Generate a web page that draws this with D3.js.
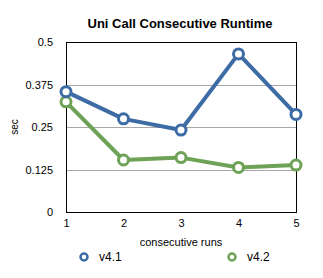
<!DOCTYPE html>
<html>
<head>
<meta charset="utf-8">
<script src="https://cdn.jsdelivr.net/npm/d3@7"></script>
<style>
  body { margin: 0; background: #fff; }
  text { font-family: "Liberation Sans", Arial, sans-serif; fill: #000; }
</style>
</head>
<body>
<svg id="chart" width="323" height="278"></svg>
<script>
// chart data
var runs = [1, 2, 3, 4, 5];
var v41 = [0.354, 0.274, 0.241, 0.465, 0.287];
var v42 = [0.324, 0.153, 0.160, 0.131, 0.138];
var yTicks = [0, 0.125, 0.25, 0.375, 0.5];
var yTickLabels = ["0", "0.125", "0.25", "0.375", "0.5"];
var seriesNames = ["v4.1", "v4.2"];

var svg = d3.select("#chart");
// plot box (note: "top" is reserved on window, so use plotTop)
var plotLeft = 66, plotRight = 296, plotTop = 42, plotBottom = 212;

var x = d3.scaleLinear().domain([1, 5]).range([plotLeft, plotRight]);
var y = d3.scaleLinear().domain([0, 0.5]).range([plotBottom, plotTop]);
var colour = d3.scaleOrdinal().domain(seriesNames).range(["#3d6ca4", "#6ea256"]);

// title
svg.append("text")
    .attr("x", 180)
    .attr("y", 28)
    .attr("text-anchor", "middle")
    .attr("font-size", "13")
    .attr("font-weight", "bold")
    .text("Uni Call Consecutive Runtime");

// grid lines
svg.append("g")
    .selectAll("line")
    .data(yTicks.slice(1, -1))
    .enter().append("line")
    .attr("x1", plotLeft).attr("x2", plotRight)
    .attr("y1", function (d) { return Math.round(y(d)) + 0.5; })
    .attr("y2", function (d) { return Math.round(y(d)) + 0.5; })
    .attr("stroke", "#a8a8a8")
    .attr("stroke-width", 1);

// y axis labels
svg.append("g")
    .attr("transform", "translate(" + plotLeft + ",0)")
    .call(d3.axisLeft(y).tickValues(yTicks).tickSize(0).tickPadding(13)
        .tickFormat(function (d, i) { return yTickLabels[i]; }))
    .call(function (g) { g.select(".domain").remove(); })
    .selectAll("text")
    .attr("font-size", "11")
    .attr("font-family", "Liberation Sans, Arial, sans-serif")
    .attr("fill", "#000");

// x axis labels
svg.append("g")
    .attr("transform", "translate(0," + plotBottom + ")")
    .call(d3.axisBottom(x).tickValues(runs).tickSize(0).tickPadding(7)
        .tickFormat(d3.format("d")))
    .call(function (g) { g.select(".domain").remove(); })
    .selectAll("text")
    .attr("font-size", "11")
    .attr("font-family", "Liberation Sans, Arial, sans-serif")
    .attr("fill", "#000");

// plot frame
svg.append("rect")
    .attr("x", plotLeft + 0.5).attr("y", plotTop + 0.5)
    .attr("width", plotRight - plotLeft).attr("height", plotBottom - plotTop)
    .attr("fill", "none")
    .attr("stroke", "#000")
    .attr("stroke-width", 1);

// axis titles
svg.append("text")
    .attr("transform", "translate(18," + ((plotTop + plotBottom) / 2) + ")rotate(-90)")
    .attr("text-anchor", "middle")
    .attr("font-size", "10")
    .text("sec");

svg.append("text")
    .attr("x", (plotLeft + plotRight) / 2)
    .attr("y", 246)
    .attr("text-anchor", "middle")
    .attr("font-size", "11")
    .text("consecutive runs");

// series
var line = d3.line()
    .x(function (d, i) { return x(runs[i]); })
    .y(function (d) { return y(d); });

[v42, v41].forEach(function (vals, k) {
    var name = seriesNames[1 - k];
    var g = svg.append("g");
    g.append("path")
        .datum(vals)
        .attr("d", line)
        .attr("fill", "none")
        .attr("stroke", colour(name))
        .attr("stroke-width", 4)
        .attr("stroke-linejoin", "round");
    g.selectAll("circle")
        .data(vals)
        .enter().append("circle")
        .attr("cx", function (d, i) { return x(runs[i]); })
        .attr("cy", function (d) { return y(d); })
        .attr("r", 5)
        .attr("fill", "#fff")
        .attr("stroke", colour(name))
        .attr("stroke-width", 3);
});

// legend
var legendX = [84, 232];
var legend = svg.append("g");
legend.selectAll("circle")
    .data(seriesNames)
    .enter().append("circle")
    .attr("cx", function (d, i) { return legendX[i]; })
    .attr("cy", 257)
    .attr("r", 3.5)
    .attr("fill", "#fff")
    .attr("stroke", function (d) { return colour(d); })
    .attr("stroke-width", 2.5);
legend.selectAll("text")
    .data(seriesNames)
    .enter().append("text")
    .attr("x", function (d, i) { return legendX[i] + 15; })
    .attr("y", 261)
    .attr("font-size", "12")
    .text(function (d) { return d; });
</script>
</body>
</html>
